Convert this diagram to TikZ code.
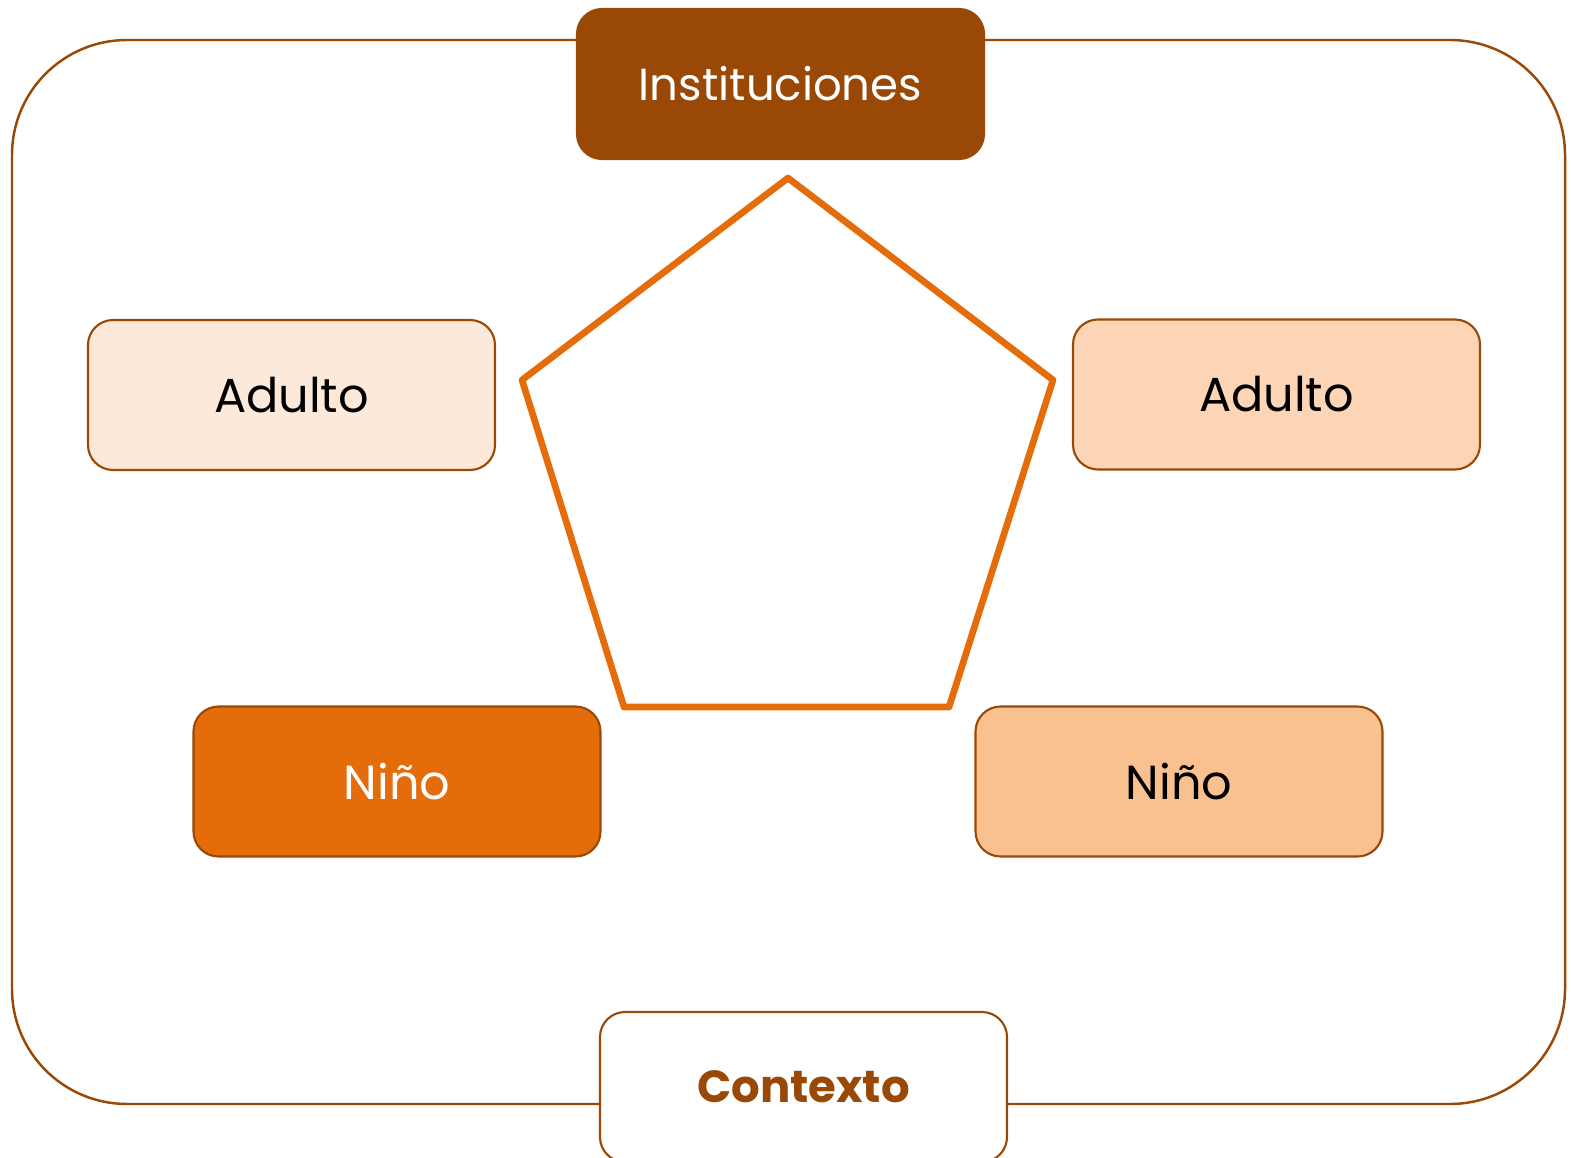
\documentclass[tikz,border=0pt]{standalone}
\usepackage{fontspec}
\setmainfont{Poppins}
\definecolor{marron}{HTML}{994806}
\definecolor{naranja}{HTML}{E46C0A}
\definecolor{claro}{HTML}{FDE9D9}
\definecolor{melon}{HTML}{FBD5B5}
\definecolor{salmon}{HTML}{F9C090}
\begin{document}
\begin{tikzpicture}[font=\fontsize{13.6}{15}\selectfont,
	caja/.style={draw=marron, line width=0.6pt, rounded corners=0.25cm, minimum width=4.07cm, minimum height=1.5cm, inner sep=0pt}]
			\useasboundingbox (0,0) rectangle (15.71,11.57);
			\draw[marron, line width=0.7pt, rounded corners=1.15cm] (0.12,0.53) rectangle (15.65,11.17);
			% vertices del pentagono
			\path (7.88,9.79) coordinate (A) (10.53,7.77) coordinate (B) (9.49,4.50) coordinate (C) (6.24,4.50) coordinate (D) (5.22,7.77) coordinate (E);
			\draw[naranja, line width=1.9pt, line join=round] (A)--(B)--(C)--(D)--(E)--cycle;
			\node[caja, fill=marron, text=white, font=\fontsize{12.8}{15}\selectfont] (I) at (7.805,10.73) {Instituciones};
			\node[caja, fill=claro] (AL) at (2.915,7.62) {Adulto};
			\node[caja, fill=melon] (AR) at (12.765,7.625) {Adulto};
			\node[caja, fill=naranja, text=white] (NL) at (3.97,3.755) {Niño};
			\node[caja, fill=salmon] (NR) at (11.79,3.755) {Niño};
			\node[caja, fill=white, text=marron, font=\fontsize{12.8}{15}\selectfont\bfseries] (X) at (8.035,0.70) {Contexto};
		\end{tikzpicture}
\end{document}
